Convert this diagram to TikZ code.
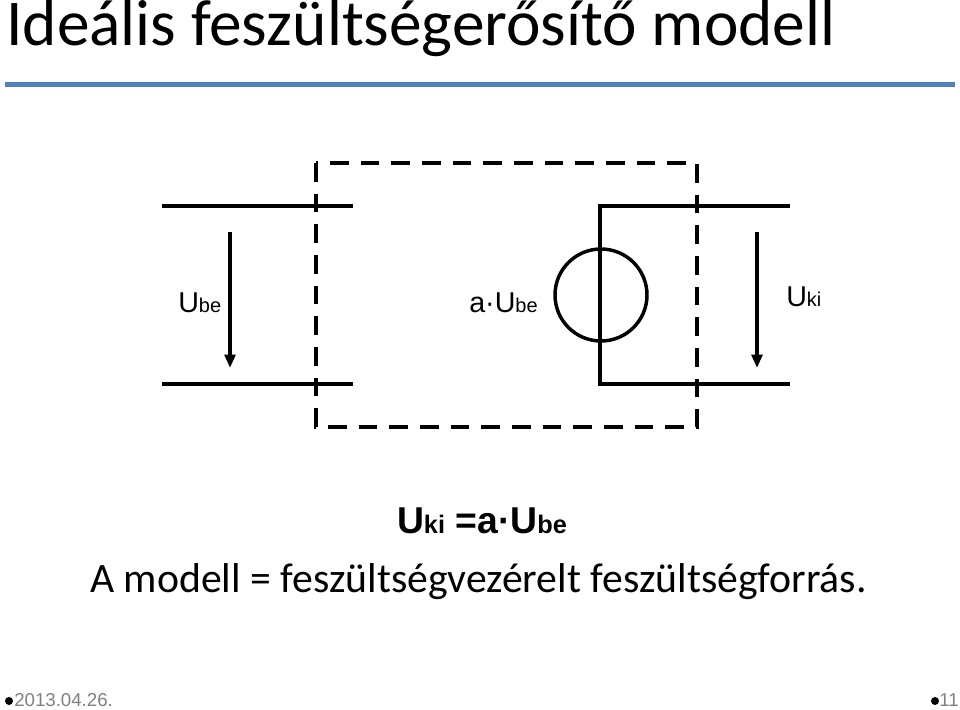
\documentclass[tikz,border=0pt]{standalone}
\usepackage{fontspec}
\setmainfont{Liberation Sans}
\newfontfamily\carl{Carlito}
\usetikzlibrary{arrows.meta}
\definecolor{barblue}{RGB}{79,129,189}
\begin{document}
\begin{tikzpicture}[x=0.75pt,y=-0.75pt,
  wire/.style={line width=2.6pt},
  varrow/.style={line width=2.6pt,-{Triangle[length=10pt,width=8pt]}},
  lbl/.style={font=\fontsize{21.5}{23}\selectfont,inner sep=0pt},
  sub/.style={}]
\useasboundingbox (0,0) rectangle (960,710);
\node[anchor=base west,inner sep=0pt,font=\carl\fontsize{49}{52}\selectfont] (title) at (6,46) {Ideális feszültségerősítő modell};
\fill[barblue] (5,82) rectangle (955,87);
% left port
\coordinate (l1a) at (162,206); \coordinate (l1b) at (353,206);
\coordinate (l2a) at (162,384); \coordinate (l2b) at (353,384);
\draw[wire] (l1a) -- (l1b); \draw[wire] (l2a) -- (l2b);
\coordinate (a1s) at (230,232); \coordinate (a1e) at (230,368);
\draw[varrow] (a1s) -- (a1e);
\node[lbl,anchor=base west] (ube) at (178,312) {U{\fontsize{15}{16}\selectfont be}};
% dashed box
\draw[line width=2.6pt,dash pattern=on 14pt off 9pt] (316,163) rectangle (697,427);
% right port
\coordinate (r1) at (790,206); \coordinate (r2) at (600,206);
\coordinate (r3) at (600,384); \coordinate (r4) at (790,384);
\draw[wire] (r1) -- (r2) -- (r3) -- (r4);
\node[circle,draw,line width=2.6pt,minimum size=69pt,inner sep=0pt] (src) at (601,295) {};
\coordinate (a2s) at (757,232); \coordinate (a2e) at (757,368);
\draw[varrow] (a2s) -- (a2e);
\node[lbl,anchor=base west] (uki) at (786,306) {U{\fontsize{15}{16}\selectfont ki}};
\node[lbl,anchor=base west] (aube) at (469,312) {a·U{\fontsize{15}{16}\selectfont be}};
% formula
\node[anchor=base,inner sep=0pt,font=\bfseries\fontsize{28}{30}\selectfont] (eq) at (482,533) {U{\fontsize{19}{20}\selectfont ki} =a·U{\fontsize{19}{20}\selectfont be}};
\node[anchor=base west,inner sep=0pt,font=\carl\fontsize{31.3}{33}\selectfont] (desc) at (90,592) {A modell = feszültségvezérelt feszültségforrás.};
% footer
\fill (9,701) circle (3pt);
\node[anchor=base west,inner sep=0pt,text=gray,font=\fontsize{14}{15}\selectfont] (date) at (14,706) {2013.04.26.};
\fill (935,701) circle (3pt);
\node[anchor=base west,inner sep=0pt,text=gray,font=\fontsize{14}{15}\selectfont] (pg) at (939,706) {11};
\end{tikzpicture}
\end{document}
